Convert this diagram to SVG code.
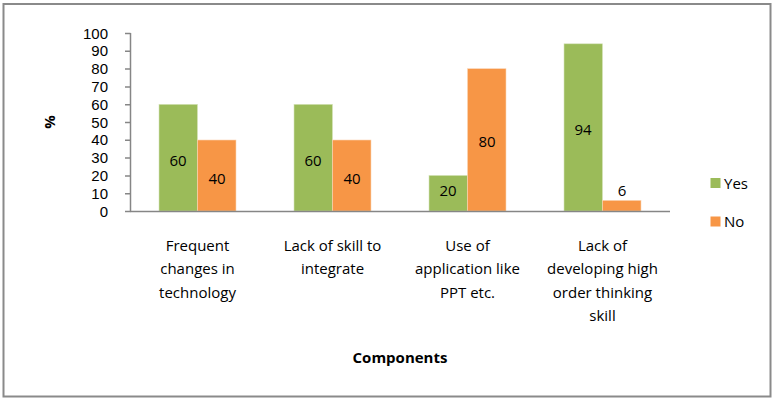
<svg xmlns="http://www.w3.org/2000/svg" width="773" height="400" viewBox="0 0 773 400">
<style>
text{font-family:"Open Sans","Liberation Sans",Arial,sans-serif;font-size:15px;fill:#000}
.yl{text-anchor:end;font-family:"Liberation Sans",Arial,sans-serif}
.c{text-anchor:middle}
.yes{fill:#9BBB59;stroke:#D7E4BD;stroke-width:0.6}
.no{fill:#F79646;stroke:#FBD5B5;stroke-width:0.6}
.ax{stroke:#868686;stroke-width:1.5;fill:none}
</style>
<rect x="0" y="0" width="773" height="400" fill="#fff"/>
<rect x="3.5" y="4" width="767" height="392.5" fill="#fff" stroke="#8A8A8A" stroke-width="2"/>
<g id="y-axis">
<path class="ax" d="M130.5 33V211.5M125 33.5H130.5M125 51.3H130.5M125 69.1H130.5M125 86.9H130.5M125 104.7H130.5M125 122.5H130.5M125 140.3H130.5M125 158.1H130.5M125 175.9H130.5M125 193.7H130.5M125 211.5H130.5"/>
<text class="yl" x="108" y="38.5">100</text>
<text class="yl" x="108" y="56.3">90</text>
<text class="yl" x="108" y="74.1">80</text>
<text class="yl" x="108" y="91.9">70</text>
<text class="yl" x="108" y="109.7">60</text>
<text class="yl" x="108" y="127.5">50</text>
<text class="yl" x="108" y="145.3">40</text>
<text class="yl" x="108" y="163.1">30</text>
<text class="yl" x="108" y="180.9">20</text>
<text class="yl" x="108" y="198.7">10</text>
<text class="yl" x="108" y="216.5">0</text>
<text class="c" transform="translate(55 122) rotate(-90)" font-weight="bold">%</text>
</g>
<g id="bars">
<rect class="yes" x="159" y="104.3" width="38.5" height="106.8"/>
<rect class="no" x="197.5" y="140" width="38.5" height="71.1"/>
<rect class="yes" x="294" y="104.3" width="38.5" height="106.8"/>
<rect class="no" x="332.5" y="140" width="38.5" height="71.1"/>
<rect class="yes" x="429" y="175.4" width="38.5" height="35.7"/>
<rect class="no" x="467.5" y="68.7" width="38.5" height="142.4"/>
<rect class="yes" x="564" y="43.8" width="38.5" height="167.3"/>
<rect class="no" x="602.5" y="200.4" width="38.5" height="10.7"/>
</g>
<path class="ax" d="M130 211.5H670"/>
<g id="data-labels">
<text class="c" x="178" y="165.5">60</text>
<text class="c" x="217" y="183.5">40</text>
<text class="c" x="313" y="165.5">60</text>
<text class="c" x="352" y="183.5">40</text>
<text class="c" x="448" y="195.5">20</text>
<text class="c" x="487" y="147">80</text>
<text class="c" x="583" y="134.5">94</text>
<text class="c" x="622" y="195.5">6</text>
</g>
<g id="categories">
<text class="c" x="197.5" y="251">Frequent</text>
<text class="c" x="197.5" y="274.3">changes in</text>
<text class="c" x="197.5" y="297.6">technology</text>
<text class="c" x="332.5" y="251">Lack of skill to</text>
<text class="c" x="332.5" y="274.3">integrate</text>
<text class="c" x="467.5" y="251">Use of</text>
<text class="c" x="467.5" y="274.3">application like</text>
<text class="c" x="467.5" y="297.6">PPT etc.</text>
<text class="c" x="602.5" y="251">Lack of</text>
<text class="c" x="602.5" y="274.3">developing high</text>
<text class="c" x="602.5" y="297.6">order thinking</text>
<text class="c" x="602.5" y="320.9">skill</text>
</g>
<text class="c" x="400" y="362.5" font-weight="bold">Components</text>
<g id="legend">
<rect x="710.5" y="178" width="10" height="10" fill="#9BBB59"/>
<text x="724" y="188.5">Yes</text>
<rect x="710.5" y="216.5" width="10" height="10" fill="#F79646"/>
<text x="724" y="227">No</text>
</g>
</svg>
